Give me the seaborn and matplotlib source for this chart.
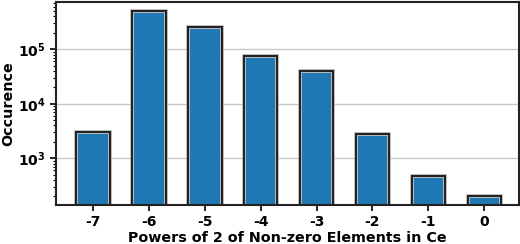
import matplotlib
matplotlib.use("Agg")
import matplotlib.pyplot as plt
from matplotlib.patches import Rectangle
import seaborn as sns
import pandas as pd

powers = ["-7", "-6", "-5", "-4", "-3", "-2", "-1", "0"]
counts = [3000, 498000, 260000, 74500, 39800, 2750, 480, 203]

df = pd.DataFrame({"power": powers, "count": counts})

sns.set_style("white")
plt.rcParams['font.family'] = ['DejaVu Sans']
plt.rcParams['font.weight'] = 'bold'
plt.rcParams['text.color'] = 'black'
plt.rcParams['axes.labelcolor'] = 'black'
plt.rcParams['xtick.color'] = 'black'
plt.rcParams['ytick.color'] = 'black'

fig = plt.figure(figsize=(5.2, 2.44), dpi=100)
ax = fig.add_axes([56/520, 1-205/244, (519-56)/520, (205-2)/244])

sns.barplot(data=df, x="power", y="count", color="#1f77b4", saturation=1,
            width=0.6, edgecolor="#222222", linewidth=1.5, ax=ax, zorder=3)
ax.set_yscale("log")
ax.set_ylim(139, 738000)
ax.set_xlim(-0.66, 7.62)
ybot = ax.get_ylim()[0] * 0.8

# inner light outline + dark outline on top, derived from the bar patches
for p in list(ax.patches):
    x0 = p.get_x()
    w = p.get_width()
    top = p.get_y() + p.get_height()
    inner = Rectangle((x0, ybot), w, top - ybot, facecolor="none",
                      edgecolor="#c4c4c4", linewidth=2.8, zorder=3.5)
    ax.add_patch(inner)
    clip = Rectangle((x0, ybot), w, top - ybot, transform=ax.transData)
    inner.set_clip_path(clip)
    inner.set_clip_box(ax.bbox)
    outer = Rectangle((x0, ybot), w, top - ybot, facecolor="none",
                      edgecolor="#222222", linewidth=1.5, zorder=4)
    ax.add_patch(outer)

ax.yaxis.grid(True, which="major", color="#c8c8c8", linewidth=1.0, zorder=0)
ax.set_axisbelow(True)
for s in ax.spines.values():
    s.set_color("#222222")
    s.set_linewidth(1.5)
    s.set_zorder(5)
ax.tick_params(axis="y", which="both", left=True, direction="out", colors="black")
ax.tick_params(axis="y", which="major", length=4, width=1.2)
ax.tick_params(axis="y", which="minor", length=2, width=0.8)
ax.tick_params(axis="x", length=4, width=1.2, bottom=True, colors="black", pad=3)
for lab in ax.get_xticklabels() + ax.get_yticklabels():
    lab.set_fontweight("bold")
    lab.set_fontsize(10)
    lab.set_color("black")
ax.set_xlabel("Powers of 2 of Non-zero Elements in Ce", fontsize=10.3, fontweight="bold", labelpad=2, color="black")
ax.set_ylabel("Occurence", fontsize=10.3, fontweight="bold", labelpad=2, color="black")

fig.savefig("out.png", dpi=100)
